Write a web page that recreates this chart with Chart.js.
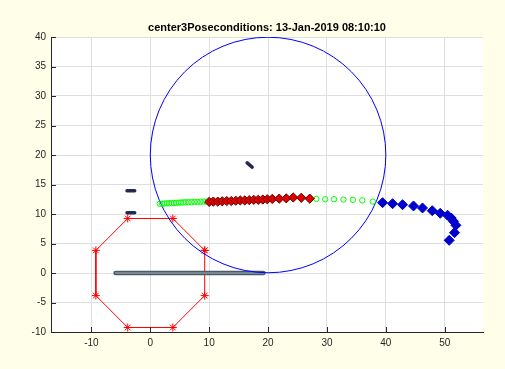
<!DOCTYPE html>
<html><head><meta charset="utf-8">
<script src="https://cdn.jsdelivr.net/npm/chart.js@4/dist/chart.umd.min.js"></script>
<style>html,body{margin:0;padding:0;background:#fffee8;}canvas{display:block;}</style>
</head><body>
<canvas id="c" width="505" height="369"></canvas>
<script>
const titleText = 'center3Poseconditions: 13-Jan-2019 08:10:10';
const xTicks = [-10, 0, 10, 20, 30, 40, 50];
const yTicks = [-10, -5, 0, 5, 10, 15, 20, 25, 30, 35, 40];

const octagonX = [9.24, 3.83, -3.83, -9.24, -9.24, -3.83, 3.83, 9.24, 9.24];
const octagonY = [3.83, 9.24, 9.24, 3.83, -3.83, -9.24, -9.24, -3.83, 3.83];

const circleCenter = [20, 20];
const circleRadius = 20;

const pathX = [-5.9, 19.2];
const pathY = [0, 0];

const dash1X = [-3.95, -2.65], dash1Y = [13.95, 13.95];
const dash2X = [-3.95, -2.65], dash2Y = [10.2, 10.2];
const dash3X = [16.45, 17.3], dash3Y = [18.65, 17.95];

const greenX = [1.6, 2.0, 2.4, 2.8, 3.2, 3.6, 4.0, 4.4, 4.8, 5.2, 5.6, 6.0, 6.5, 7.0, 7.5, 8.0, 8.5, 9.0, 9.5,
                28.2, 29.7, 31.2, 32.8, 34.4, 36.0, 37.8];
const greenY = [11.75, 11.75, 11.78, 11.8, 11.82, 11.85, 11.87, 11.9, 11.92, 11.95, 11.97, 12.0, 12.0, 12.02, 12.05, 12.05, 12.08, 12.1, 12.1,
                12.55, 12.5, 12.5, 12.45, 12.4, 12.3, 12.1];

const redX = [10.0, 10.7, 11.46, 12.22, 12.99, 13.75, 14.52, 15.28, 16.04, 16.81, 17.57, 18.34, 19.10, 19.86, 20.71, 21.90, 23.09, 24.28, 25.64, 27.08];
const redY = [12.05, 12.1, 12.1, 12.15, 12.2, 12.2, 12.25, 12.3, 12.3, 12.35, 12.4, 12.4, 12.45, 12.5, 12.55, 12.6, 12.65, 12.8, 12.75, 12.6];

const blueX = [39.44, 41.14, 42.84, 44.70, 46.23, 47.88, 49.24, 50.48, 51.10, 51.49, 51.90, 51.66, 50.76];
const blueY = [11.92, 11.75, 11.58, 11.36, 11.02, 10.56, 10.12, 9.78, 9.32, 8.76, 8.08, 6.83, 5.54];

const pts = (xs, ys) => xs.map((x, i) => ({x: x, y: ys[i]}));

const bgPlugin = {
  id: 'bg',
  beforeDraw(chart) {
    const {ctx, chartArea: a} = chart;
    ctx.save();
    ctx.fillStyle = '#ffffff';
    ctx.fillRect(a.left, a.top, a.right - a.left, a.bottom - a.top);
    ctx.restore();
  },
  afterDraw(chart) {
    const {ctx, chartArea: a, scales} = chart;
    ctx.save();
    ctx.strokeStyle = '#262626';
    ctx.lineWidth = 1;
    ctx.beginPath();
    scales.y.ticks.forEach(t => {
      const y = Math.round(scales.y.getPixelForValue(t.value)) + 0.5;
      ctx.moveTo(a.left, y); ctx.lineTo(a.left + 5, y);
    });
    scales.x.ticks.forEach(t => {
      const x = Math.round(scales.x.getPixelForValue(t.value)) + 0.5;
      ctx.moveTo(x, a.bottom); ctx.lineTo(x, a.bottom - 5);
    });
    ctx.stroke();
    ctx.restore();
  }
};

const circleRadiusPx = c => {
  const s = c.chart.scales.x;
  return Math.abs(s.getPixelForValue(circleCenter[0] + circleRadius) - s.getPixelForValue(circleCenter[0]));
};

const tickFont = {family: 'Liberation Sans', size: 10};

new Chart(document.getElementById('c'), {
  type: 'scatter',
  data: {
    datasets: [
      {data: pts(octagonX, octagonY), showLine: true, borderColor: '#ff0000', borderWidth: 1,
       pointStyle: 'star', pointRadius: 4, pointBorderColor: '#ff0000', pointBorderWidth: 1, order: 9},
      {data: pts(pathX, pathY), showLine: true, borderColor: '#4c5a66', borderWidth: 4.5, borderCapStyle: 'round',
       pointRadius: 0, order: 8},
      {data: pts(pathX, pathY), showLine: true, borderColor: '#8496a2', borderWidth: 1.5, borderCapStyle: 'round',
       pointRadius: 0, order: 7},
      {data: pts(dash1X, dash1Y), showLine: true, borderColor: '#25284f', borderWidth: 3.5, borderCapStyle: 'round', pointRadius: 0, order: 6},
      {data: pts(dash2X, dash2Y), showLine: true, borderColor: '#25284f', borderWidth: 3.5, borderCapStyle: 'round', pointRadius: 0, order: 6},
      {data: pts(dash3X, dash3Y), showLine: true, borderColor: '#25284f', borderWidth: 3.5, borderCapStyle: 'round', pointRadius: 0, order: 6},
      {data: [{x: circleCenter[0], y: circleCenter[1]}], pointStyle: 'circle', pointRadius: circleRadiusPx,
       pointBackgroundColor: 'rgba(0,0,0,0)', pointBorderColor: '#0000ff', pointBorderWidth: 1, order: 5},
      {data: pts(greenX, greenY), pointStyle: 'circle', pointRadius: 2.7,
       pointBackgroundColor: 'rgba(0,0,0,0)', pointBorderColor: '#00ff00', pointBorderWidth: 1, order: 4},
      {data: pts(redX, redY), pointStyle: 'rectRot', pointRadius: 4.6,
       pointBackgroundColor: '#e00000', pointBorderColor: '#600000', pointBorderWidth: 1, order: 3},
      {data: pts(blueX, blueY), pointStyle: 'rectRot', pointRadius: 5,
       pointBackgroundColor: '#0000cc', pointBorderColor: '#0000cc', pointBorderWidth: 1, order: 2}
    ]
  },
  options: {
    responsive: false,
    animation: false,
    events: [],
    layout: {padding: {left: 0, right: 22, top: 0, bottom: 0}},
    plugins: {
      legend: {display: false},
      tooltip: {enabled: false},
      title: {display: true, text: titleText, fullSize: false, color: '#000000',
              font: {family: 'Liberation Sans', size: 11, weight: 'bold'},
              padding: {top: 21, bottom: 2.8}}
    },
    scales: {
      x: {
        type: 'linear', min: -16.86, max: 56.5,
        afterFit(s) { s.height = 37; },
        afterBuildTicks(s) { s.ticks = xTicks.map(v => ({value: v})); },
        grid: {color: '#dfdfdf', drawTicks: false},
        border: {display: true, color: '#262626', width: 1},
        ticks: {padding: 5, font: tickFont, color: '#262626'}
      },
      y: {
        type: 'linear', min: -10, max: 40,
        afterFit(s) { s.width = 51; },
        afterBuildTicks(s) { s.ticks = yTicks.map(v => ({value: v})); },
        grid: {color: '#dfdfdf', drawTicks: false},
        border: {display: true, color: '#262626', width: 1},
        ticks: {padding: 5, font: tickFont, color: '#262626'}
      }
    }
  },
  plugins: [bgPlugin]
});
</script>
</body></html>
